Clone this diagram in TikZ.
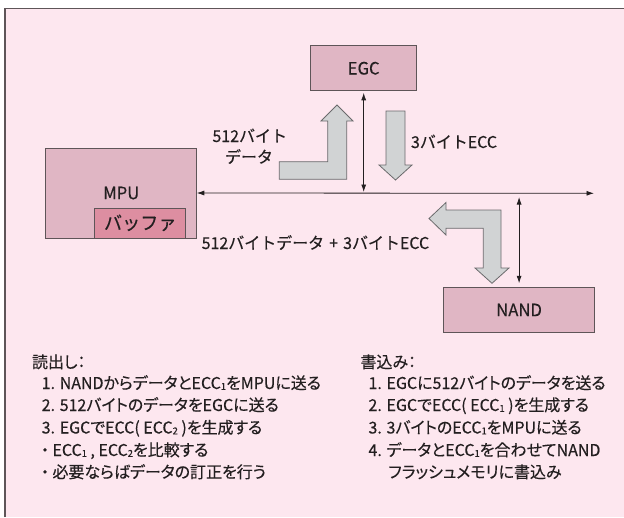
\documentclass[tikz,border=0pt]{standalone}
\usepackage{fontspec}
\setmainfont{Noto Sans CJK JP}[FakeStretch=0.98, FakeBold=0.3, RawFeature=+palt]
\usetikzlibrary{arrows.meta}
\definecolor{bgpink}{HTML}{FDE7EF}
\definecolor{boxpink}{HTML}{E0B6C4}
\definecolor{bufpink}{HTML}{DD8EA1}
\definecolor{edgegray}{HTML}{5E5558}
\definecolor{arrowfill}{HTML}{D1D3D4}
\definecolor{arrowedge}{HTML}{6A6A6C}
\definecolor{txt}{HTML}{231F20}
\newcommand\mysub[1]{\raisebox{-0.8pt}{\fontsize{9.5}{9.5}\selectfont #1}}
\newcommand\mybul{\makebox[15pt]{・}}
\tikzset{
  blockbox/.style={draw=edgegray, line width=0.9pt, fill=boxpink, inner sep=0pt, outer sep=0pt,
    text=txt, font=\fontsize{17}{17}\selectfont, text height=12.4pt, text depth=0pt},
  bufbox/.style={draw=edgegray, line width=0.9pt, fill=bufpink, inner sep=0pt, outer sep=0pt,
    text=txt, font=\fontsize{18.5}{18.5}\selectfont\addfontfeatures{RawFeature=-palt}, text height=13.4pt, text depth=0pt},
  fatarrow/.style={draw=arrowedge, line width=0.8pt, fill=arrowfill, line join=miter},
  thin/.style={draw=txt, line width=0.8pt},
  tip2/.style={{Latex[length=7.5pt,width=5pt]}-{Latex[length=7.5pt,width=5pt]}},
  lbl/.style={inner sep=0pt, outer sep=0pt, text=txt, font=\fontsize{16.3}{16.3}\selectfont},
  flowlbl/.style={inner sep=0pt, outer sep=0pt, text=txt,
    font=\fontsize{16.3}{16.3}\selectfont\addfontfeatures{RawFeature=-palt}}
}
\begin{document}
\begin{tikzpicture}[x=1pt,y=-1pt]
\useasboundingbox (0,0) rectangle (624,517);
\fill[white] (0,0) rectangle (624,517);
\fill[bgpink] (5,8.5) rectangle (624,517);
\draw[edgegray, line width=1.2pt] (5,517) -- (5,8.5) -- (624,8.5);

% blocks
\node[blockbox, minimum width=106pt, minimum height=45pt] (egc) at (363.7,68.3) {EGC};
\node[blockbox, minimum width=151pt, minimum height=90pt] (mpu) at (121.25,193) {MPU};
\node[bufbox, minimum width=91pt, minimum height=30pt] (buf) at (140.25,223) {バッファ};
\node[blockbox, minimum width=151.4pt, minimum height=45.4pt] (nand) at (519.1,310) {NAND};

% bus
\coordinate (busR) at (594,193.3);
\draw[thin, tip2] (mpu.east) -- (busR);
\draw[thin, tip2, shorten <=2pt, shorten >=1pt] (egc.south) -- (egc.south |- mpu.east);
\draw[thin, tip2, shorten <=4pt, shorten >=4pt] (nand.north |- mpu.east) -- (nand.north);

% fat arrows
\draw[fatarrow] (279.3,161.7) -- (327.7,161.7) -- (327.7,121) -- (321,121) -- (337,105)
  -- (353,121) -- (346.7,121) -- (346.7,179.3) -- (279.3,179.3) -- cycle;
\draw[fatarrow] (386,111) -- (405,111) -- (405,165) -- (412,165) -- (395.5,180)
  -- (379,165) -- (386,165) -- cycle;
\draw[fatarrow] (446,210) -- (501,210) -- (501,268) -- (509,268) -- (492,283.3)
  -- (475,268) -- (483.3,268) -- (483.3,228.3) -- (446,228.3) -- (446,235)
  -- (429,218.5) -- (446,202.5) -- cycle;

% labels
\node[flowlbl, anchor=base east] (l512) at (287,142) {512バイト};
\node[flowlbl, anchor=base east] (ldata) at (273,163) {データ};
\node[flowlbl, anchor=base west] (l3) at (411,148) {3バイトECC};
\node[flowlbl, anchor=base west] (lall) at (201.7,249) {512バイトデータ\hspace{1.5pt} + \hspace{1.5pt}3バイトECC};

% read list
\node[lbl, anchor=base west] (rh) at (32,368) {読出し：};
\node[lbl, anchor=base west] (r1) at (41.7,389) {1. NANDからデータとECC\mysub{1}をMPUに送る};
\node[lbl, anchor=base west] (r2) at (41.7,411) {2. 512バイトのデータをEGCに送る};
\node[lbl, anchor=base west] (r3) at (41.7,433.5) {3. EGCでECC( ECC\mysub{2} )を生成する};
\node[lbl, anchor=base west] (r4) at (37.5,456) {\mybul ECC\mysub{1} , ECC\mysub{2}を比較する};
\node[lbl, anchor=base west] (r5) at (37.5,478) {\mybul 必要ならばデータの訂正を行う};

% write list
\node[lbl, anchor=base west] (wh) at (360.5,368) {書込み：};
\node[lbl, anchor=base west] (w1) at (368.5,389) {1. EGCに512バイトのデータを送る};
\node[lbl, anchor=base west] (w2) at (368.5,411) {2. EGCでECC( ECC\mysub{1} )を生成する};
\node[lbl, anchor=base west] (w3) at (368.5,433.5) {3. 3バイトのECC\mysub{1}をMPUに送る};
\node[lbl, anchor=base west] (w4) at (368.5,456) {4. データとECC\mysub{1}を合わせてNAND};
\node[lbl, anchor=base west] (w5) at (388.4,478) {フラッシュメモリに書込み};
\end{tikzpicture}
\end{document}
